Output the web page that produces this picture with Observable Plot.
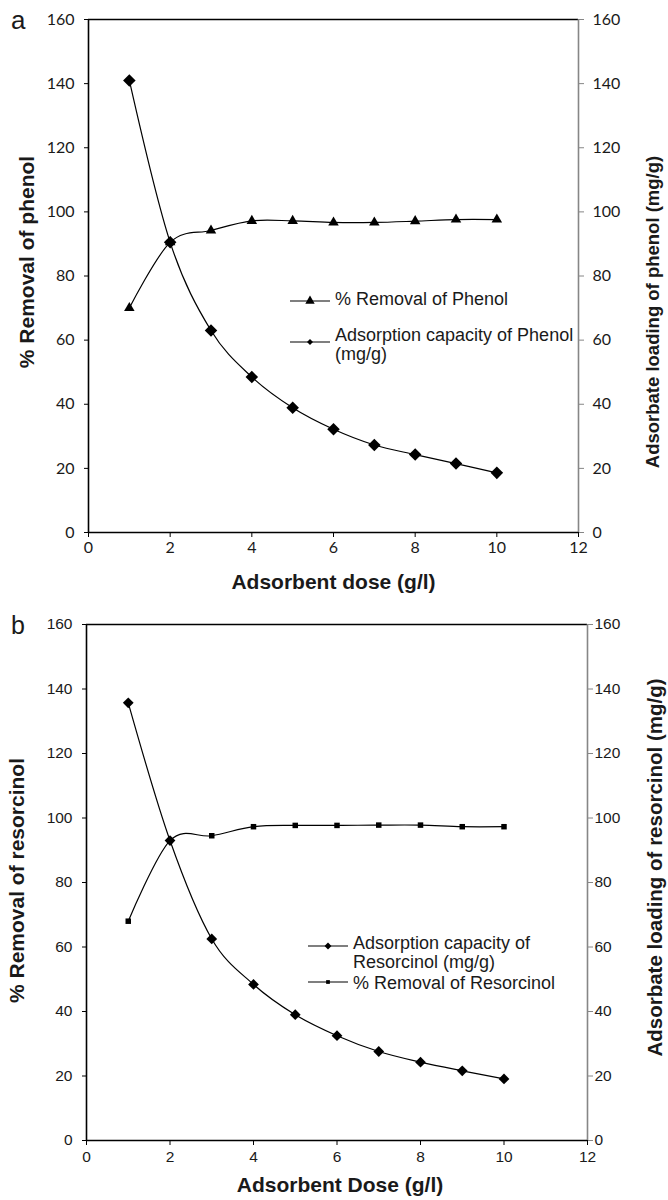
<!DOCTYPE html>
<html><head><meta charset="utf-8">
<script src="https://cdn.jsdelivr.net/npm/d3@7"></script>
<script src="https://cdn.jsdelivr.net/npm/@observablehq/plot@0.6"></script>
<style>
body{margin:0;background:#fff;}
#wrap{position:relative;width:668px;height:1200px;overflow:hidden;font-family:"Liberation Sans",Arial,sans-serif;color:#1a1a1a;}
.panel{position:absolute;left:0;width:668px;height:600px;}
.p1 svg g[aria-label$="tick label"]{font-size:16px !important;font-family:Lato,"Liberation Sans",sans-serif !important;}
.p2 svg g[aria-label$="tick label"]{font-size:15.5px !important;font-family:"Liberation Sans",Arial,sans-serif !important;}
.letter{position:absolute;line-height:1;}
.lg-text{position:absolute;white-space:nowrap;font-size:18px;}
.lg-mark{position:absolute;}
</style></head><body><div id="wrap"></div>
<script>
// ---- data ----
const dose = [1, 2, 3, 4, 5, 6, 7, 8, 9, 10];
const removalPhenol = [70, 90.5, 94.2, 97.2, 97.2, 96.7, 96.7, 97.1, 97.6, 97.6];
const capacityPhenol = [141, 90.5, 63, 48.5, 38.9, 32.2, 27.3, 24.3, 21.5, 18.6];
const removalResorcinol = [68, 93, 94.5, 97.3, 97.7, 97.7, 97.8, 97.8, 97.3, 97.3];
const capacityResorcinol = [135.7, 93, 62.5, 48.4, 39, 32.5, 27.6, 24.3, 21.6, 19.1];
const xTicks = [0, 2, 4, 6, 8, 10, 12];
const yTicks = [0, 20, 40, 60, 80, 100, 120, 140, 160];
const xDomain = [0, 12];
const yDomain = [0, 160];

const ARIAL = '"Liberation Sans", Arial, sans-serif';
const CAL = 'Lato, "Liberation Sans", sans-serif';
const INK = "#1a1a1a";
const GRAY = "#868686";

function panel(cfg) {
  const data = dose.map((d, i) => ({dose: d, removal: cfg.removal[i], capacity: cfg.capacity[i]}));
  const [x0, x1] = xDomain, [y0, y1] = yDomain;
  return Plot.plot({
    width: 668, height: 600,
    marginTop: cfg.m[0], marginRight: cfg.m[1], marginBottom: cfg.m[2], marginLeft: cfg.m[3],
    x: {domain: xDomain},
    y: {domain: yDomain},
    style: {fontFamily: cfg.tickFont, fontSize: cfg.tickSize + "px", color: INK, background: "white", overflow: "visible"},
    marks: [
      Plot.ruleY([y1], {stroke: "#000", strokeWidth: 1.3}),
      Plot.ruleX([x1], {stroke: GRAY, strokeWidth: 1.6}),
      Plot.ruleX([x0], {stroke: "#000", strokeWidth: 1.6}),
      Plot.ruleY([y0], {stroke: "#000", strokeWidth: 1.6}),
      Plot.axisX({ticks: xTicks, tickSize: 5, tickPadding: cfg.xPad, label: null, stroke: "#000", fill: INK}),
      Plot.axisY({anchor: "left", ticks: yTicks, tickSize: 4, tickPadding: cfg.lPad, label: null, stroke: "#000", fill: INK}),
      Plot.axisY({anchor: "right", ticks: yTicks, tickSize: 5, tickPadding: cfg.rPad, label: null, stroke: GRAY, fill: INK}),
      Plot.line(data, {x: "dose", y: "removal", curve: "cardinal", tension: 0, stroke: "#000", strokeWidth: 1.2}),
      Plot.line(data, {x: "dose", y: "capacity", curve: "cardinal", tension: 0, stroke: "#000", strokeWidth: 1.2}),
      Plot.dot(data, {x: "dose", y: "removal", symbol: cfg.remSymbol, r: cfg.remR, fill: "#000"}),
      Plot.dot(data, {x: "dose", y: "capacity", symbol: "square", rotate: 45, r: cfg.capR, fill: "#000"}),
      Plot.text([cfg.leftLabel], {text: d => d, frameAnchor: "left", rotate: -90, dx: cfg.lLab[0], dy: cfg.lLab[1], textAnchor: "middle", lineAnchor: "middle", fontSize: cfg.lLab[2], fontWeight: "bold", fontFamily: ARIAL, fill: INK}),
      Plot.text([cfg.rightLabel], {text: d => d, frameAnchor: "right", rotate: -90, dx: cfg.rLab[0], dy: cfg.rLab[1], textAnchor: "middle", lineAnchor: "middle", fontSize: cfg.rLab[2], fontWeight: "bold", fontFamily: ARIAL, fill: INK}),
      Plot.text([cfg.xLabel], {text: d => d, frameAnchor: "bottom", dx: cfg.xLab[0], dy: cfg.xLab[1], textAnchor: "middle", lineAnchor: "middle", fontSize: cfg.xLab[2], fontWeight: "bold", fontFamily: ARIAL, fill: INK})
    ]
  });
}

const wrap = d3.select("#wrap");

function addPanel(node, top, cls) {
  const div = wrap.append("div").attr("class", "panel " + cls).style("top", top + "px");
  div.node().appendChild(node);
}

addPanel(panel({
  removal: removalPhenol, capacity: capacityPhenol,
  m: [19, 90, 68, 88], tickFont: CAL, tickSize: 16, xPad: 4, lPad: 10, rPad: 9,
  remSymbol: "triangle", remR: 3.9, capR: 5,
  leftLabel: "% Removal of phenol", lLab: [-61, -14, 21],
  rightLabel: "Adsorbate loading of phenol (mg/g)", rLab: [75, 36, 18.5],
  xLabel: "Adsorbent dose (g/l)", xLab: [0, 50, 21]
}), 0, "p1");

addPanel(panel({
  removal: removalResorcinol, capacity: capacityResorcinol,
  m: [24, 81, 60, 86], tickFont: ARIAL, tickSize: 15.5, xPad: 5, lPad: 10, rPad: 2,
  remSymbol: "square", remR: 3.1, capR: 4.3,
  leftLabel: "% Removal of resorcinol", lLab: [-69, -2, 21],
  rightLabel: "Adsorbate loading of resorcinol (mg/g)", rLab: [68, -15, 20.5],
  xLabel: "Adsorbent Dose (g/l)", xLab: [3, 45, 21]
}), 600, "p2");

// panel letters
wrap.append("div").attr("class", "letter").style("left", "11px").style("top", "7px").style("font-size", "26px").text("a");
wrap.append("div").attr("class", "letter").style("left", "11px").style("top", "613px").style("font-size", "25px").text("b");

// legends
function legendEntry(left, lineY, symType, symSize, rotate, textLeft, textTop, lines, lineHeight) {
  const svg = wrap.append("svg").attr("class", "lg-mark")
    .attr("width", 44).attr("height", 20)
    .style("left", left + "px").style("top", (lineY - 10) + "px");
  svg.append("line").attr("x1", 2).attr("x2", 42).attr("y1", 10).attr("y2", 10)
    .attr("stroke", "#000").attr("stroke-width", 1.2);
  svg.append("path").attr("d", d3.symbol(symType, symSize)())
    .attr("transform", `translate(22,10) rotate(${rotate})`).attr("fill", "#000");
  lines.forEach((l, i) => {
    wrap.append("div").attr("class", "lg-text")
      .style("left", textLeft + "px").style("top", (textTop + i * lineHeight) + "px")
      .style("line-height", "18px").text(l);
  });
}

const legendTop = [
  {sym: d3.symbolTriangle, size: 38, rot: 0, lineY: 300.5, textTop: 290, lines: ["% Removal of Phenol"], lh: 18},
  {sym: d3.symbolSquare, size: 18, rot: 45, lineY: 341.5, textTop: 326, lines: ["Adsorption capacity of Phenol", "(mg/g)"], lh: 18.5}
];
legendTop.forEach(e => legendEntry(288, e.lineY, e.sym, e.size, e.rot, 335, e.textTop, e.lines, e.lh));

const legendBottom = [
  {sym: d3.symbolSquare, size: 24, rot: 45, lineY: 946, textTop: 934, lines: ["Adsorption capacity of", "Resorcinol (mg/g)"], lh: 18.5},
  {sym: d3.symbolSquare, size: 14, rot: 0, lineY: 981.5, textTop: 974, lines: ["% Removal of Resorcinol"], lh: 18.5}
];
legendBottom.forEach(e => legendEntry(306, e.lineY, e.sym, e.size, e.rot, 353, e.textTop, e.lines, e.lh));
</script>
</body></html>
